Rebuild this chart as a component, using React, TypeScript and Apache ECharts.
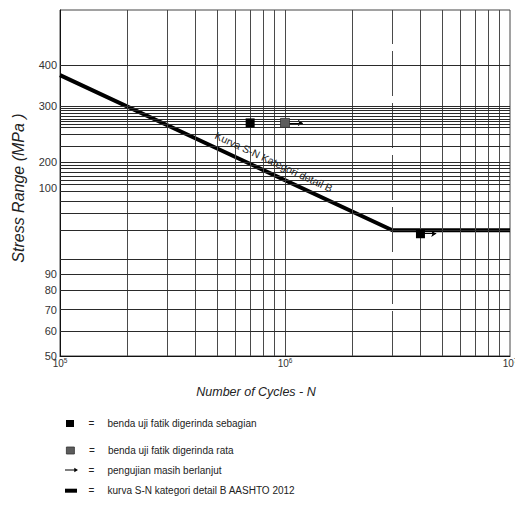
import React, { useEffect, useRef } from "react";
import * as echarts from "echarts";

// ---- data ----
const cycleMin = 1e5;
const cycleMax = 1e7;
const verticalGrid = [2e5, 3e5, 4e5, 5e5, 6e5, 7e5, 8e5, 9e5, 1e6, 2e6, 3e6, 4e6, 5e6, 6e6, 7e6, 8e6, 9e6];
const dashedGrid = [3e6];

// stress axis of the drawing is irregular: these pairs define its scale
const stressScale = [50, 60, 70, 80, 90, 100, 200, 300, 400, 536];
const scaleUnits = [0, 24.7, 46.3, 65.7, 81.7, 168, 193.7, 250, 290.7, 346];
const stressTicks = [50, 60, 70, 80, 90, 100, 200, 300, 400];
const stressGrid = [
  60, 70, 80, 90, 200, 300, 400,
  296, 292, 287, 282, 277, 273, 268, 262, 250, 228,
  188, 176, 162, 147, 131, 116,
  99.6, 98.5, 97.1, 95.1, 91.7,
];

const snCycles = [1e5, 3e6, 1e7];
const snStress = [376, 95.1, 95.1];

const partialCycles = [7e5, 4e6];
const partialStress = [270, 94.7];
const flatCycles = [1e6];
const flatStress = [270];

const runoutFrom = [1e6, 4e6];
const runoutTo = [1.2e6, 4.7e6];
const runoutStress = [270, 94.7];

const NAMES = {
  partial: "benda uji fatik digerinda sebagian",
  flat: "benda uji fatik digerinda rata",
  runout: "pengujian masih berlanjut",
  curve: "kurva S-N kategori detail B AASHTO 2012",
};

const SANS = '"Liberation Sans", Arial, sans-serif';

function toUnit(s: number): number {
  const n = stressScale.length;
  for (let i = 0; i < n - 1; i++) {
    const a = stressScale[i];
    const b = stressScale[i + 1];
    if (s <= b || i === n - 2) {
      return scaleUnits[i] + ((s - a) / (b - a)) * (scaleUnits[i + 1] - scaleUnits[i]);
    }
  }
  return 0;
}

function legendRow(
  name: string,
  top: number,
  left: number,
  icon: string,
  w: number,
  h: number,
  color: string,
  eqPad: number,
  border?: string
) {
  return {
    show: true,
    left,
    top,
    padding: 0,
    orient: "vertical",
    selectedMode: false,
    itemWidth: w,
    itemHeight: h,
    icon,
    data: [
      {
        name,
        icon,
        itemStyle: { color, borderWidth: border ? 0.8 : 0, borderColor: border || color },
      },
    ],
    formatter: (n: string) => `{eq|=}{t|${n}}`,
    textStyle: {
      fontFamily: SANS,
      fontSize: 10,
      color: "#222",
      lineHeight: 14,
      rich: {
        eq: { fontFamily: SANS, fontSize: 10, color: "#222", width: 19, padding: [0, 0, 0, eqPad], lineHeight: 14 },
        t: { fontFamily: SANS, fontSize: 10, color: "#222", lineHeight: 14 },
      },
    },
  };
}

export default function App() {
  const ref = useRef<HTMLDivElement>(null);

  useEffect(() => {
    if (!ref.current) return;
    const chart = echarts.init(ref.current, null, { renderer: "svg" });

    const tickUnits = stressTicks.map(toUnit);

    const option: any = {
      animation: false,
      backgroundColor: "#ffffff",
      grid: {
        left: 60,
        right: 5,
        top: 10,
        bottom: 156,
        show: true,
        borderColor: "#444",
        borderWidth: 1,
        containLabel: false,
        outerBoundsMode: "none",
      },
      xAxis: {
        type: "log",
        logBase: 10,
        min: cycleMin,
        max: cycleMax,
        name: "Number of Cycles - N",
        nameLocation: "middle",
        nameGap: 29,
        nameTextStyle: {
          fontFamily: SANS,
          fontStyle: "italic",
          fontSize: 12.5,
          color: "#222",
          padding: [0, 58, 0, 0],
        },
        axisLine: { show: true, lineStyle: { color: "#111", width: 1 } },
        axisTick: { show: false },
        splitLine: { show: false },
        axisLabel: {
          margin: 1,
          formatter: (v: number) => `{b|10}{s|${Math.round(Math.log10(v))}}`,
          rich: {
            b: { fontFamily: SANS, fontSize: 10, color: "#333", lineHeight: 12 },
            s: { fontFamily: SANS, fontSize: 6.5, color: "#333", lineHeight: 8, verticalAlign: "top" },
          },
        },
      },
      yAxis: {
        type: "value",
        min: 0,
        max: 346,
        name: "Stress Range (MPa )",
        nameLocation: "middle",
        nameGap: 34,
        nameTextStyle: {
          fontFamily: SANS,
          fontStyle: "italic",
          fontSize: 16,
          color: "#222",
          padding: [0, 10, 0, 0],
        },
        axisLine: { show: true, lineStyle: { color: "#111", width: 1 } },
        axisTick: { show: false },
        splitLine: { show: false },
        axisLabel: {
          customValues: tickUnits,
          margin: 3,
          fontFamily: SANS,
          fontSize: 11,
          color: "#333",
          formatter: (v: number) => {
            const i = tickUnits.findIndex((u) => Math.abs(u - v) < 0.01);
            return i >= 0 ? String(stressTicks[i]) : "";
          },
        },
      },
      legend: [
        legendRow(NAMES.partial, 416.5, 66, "rect", 8, 7, "#000", 9.5),
        legendRow(NAMES.flat, 443.5, 66, "rect", 8, 7, "#5c5c5c", 9.5, "#333"),
        legendRow(
          NAMES.runout,
          463,
          65,
          "path://M0,3.4L10,3.4L10,1.5L14,4L10,6.5L10,4.6L0,4.6Z",
          13,
          5,
          "#000",
          5.5
        ),
        legendRow(NAMES.curve, 483.7, 65, "rect", 12, 4, "#000", 6.5),
      ],
      series: [
        {
          type: "line",
          data: [],
          silent: true,
          z: 1,
          markLine: {
            silent: true,
            symbol: ["none", "none"],
            label: { show: false },
            emphasis: { disabled: true },
            data: [
              ...verticalGrid.map((v) => ({
                xAxis: v,
                lineStyle: {
                  color: "#4a4a4a",
                  width: 1,
                  type: dashedGrid.includes(v) ? [45, 7] : "solid",
                },
              })),
              ...stressGrid.map((s) => ({
                yAxis: toUnit(s),
                lineStyle: { color: "#2a2a2a", width: 1, type: "solid" },
              })),
            ],
          },
        },
        {
          name: NAMES.curve,
          type: "line",
          z: 4,
          symbol: "none",
          showSymbol: false,
          lineStyle: { color: "#000", width: 4 },
          itemStyle: { color: "#000" },
          data: snCycles.map((c, i) => [c, toUnit(snStress[i])]),
          markLine: {
            silent: true,
            symbol: ["none", "none"],
            lineStyle: { color: "rgba(0,0,0,0)", width: 0 },
            emphasis: { disabled: true },
            label: {
              show: true,
              position: "insideMiddleTop",
              formatter: "Kurva S-N Kategori detail B",
              fontFamily: SANS,
              fontSize: 10.5,
              color: "#222",
              padding: [0, 0, 0, 94],
              distance: 6,
            },
            data: [
              [
                { coord: [snCycles[0], toUnit(snStress[0])] },
                { coord: [snCycles[1], toUnit(snStress[1])] },
              ],
            ],
          },
        },
        {
          name: NAMES.runout,
          type: "lines",
          coordinateSystem: "cartesian2d",
          z: 4,
          symbol: ["none", "arrow"],
          symbolSize: 5,
          lineStyle: { color: "#000", width: 1, opacity: 1 },
          itemStyle: { color: "#000" },
          data: runoutFrom.map((f, i) => ({
            coords: [
              [f, toUnit(runoutStress[i])],
              [runoutTo[i], toUnit(runoutStress[i])],
            ],
          })),
        },
        {
          name: NAMES.partial,
          type: "scatter",
          z: 5,
          symbol: "rect",
          symbolSize: 9,
          itemStyle: { color: "#000", opacity: 1 },
          data: partialCycles.map((c, i) => [c, toUnit(partialStress[i])]),
        },
        {
          name: NAMES.flat,
          type: "scatter",
          z: 5,
          symbol: "rect",
          symbolSize: 9,
          itemStyle: { color: "#5c5c5c", borderColor: "#333", borderWidth: 0.8, opacity: 1 },
          data: flatCycles.map((c, i) => [c, toUnit(flatStress[i])]),
        },
      ],
    };

    chart.setOption(option);
    return () => chart.dispose();
  }, []);

  return (
    <div
      ref={ref}
      style={{ position: "fixed", left: 0, top: 0, width: 515, height: 512, background: "#fff" }}
    />
  );
}
